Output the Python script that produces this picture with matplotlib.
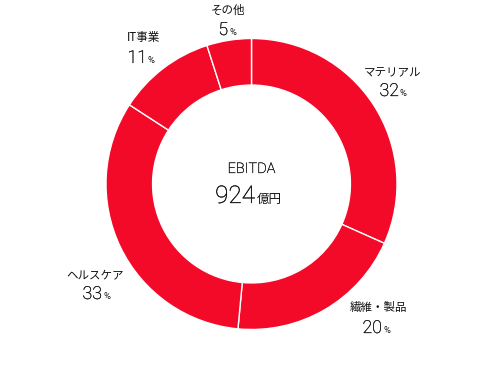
import matplotlib
matplotlib.use("Agg")
import matplotlib.pyplot as plt
import matplotlib.patheffects as pe

categories = ["マテリアル", "繊維・製品", "ヘルスケア", "IT事業", "その他"]
shares = [32, 20, 33, 11, 5]
center_title = "EBITDA"
center_value = "924"
center_unit = "億円"

W, H = 500, 367
CX, CY, R = 251.5, 184.0, 145.5
RED = "#F30A28"

fig = plt.figure(figsize=(W / 100, H / 100), dpi=100)
ax = fig.add_axes([0, 0, 1, 1])
ax.set_aspect("equal")
ax.axis("off")

ax.pie(shares, startangle=90, counterclock=False, radius=1.0,
       colors=[RED] * len(shares),
       wedgeprops=dict(width=0.32, edgecolor="white", linewidth=1.0))
ax.set_xlim(-CX / R, (W - CX) / R)
ax.set_ylim((CY - H) / R, CY / R)


def P(px, py):
    return (px - CX) / R, (CY - py) / R


JP = ["Noto Sans CJK JP", "DejaVu Sans"]
NUM = ["Roboto", "Noto Sans CJK JP", "DejaVu Sans"]
TXT = "#111111"
DARK = [pe.withStroke(linewidth=0.2, foreground=TXT)]

# layout: label center (px), number right edge + baseline (px)
layout = [
    ((392.5, 72.5), (399, 96)),
    ((378, 307.5), (382, 333)),
    ((95.5, 275), (102, 299)),
    ((144, 37.5), (147, 63)),
    ((228, 10), (228, 35)),
]

for name, val, (lab, num) in zip(categories, shares, layout):
    x, y = P(*lab)
    ax.text(x, y, name, ha="center", va="center", fontsize=8.3,
            family=JP, color=TXT)
    nx, ny = P(*num)
    ax.text(nx, ny, f"{val}", ha="right", va="baseline", fontsize=12.8,
            family=NUM, color=TXT, fontweight="light", path_effects=DARK)
    px_, _ = P(num[0] + 1.0, num[1])
    ax.text(px_, ny, "%", ha="left", va="baseline", fontsize=6.8,
            family=NUM, color=TXT, fontweight="normal")

x, y = P(251.5, 173)
ax.text(x, y, center_title, ha="center", va="baseline", fontsize=10.5,
        family=NUM, color=TXT, fontweight="light", path_effects=DARK)
x, y = P(255, 203)
ax.text(x, y, center_value, ha="right", va="baseline", fontsize=17.5,
        family=NUM, color=TXT, fontweight="light", path_effects=DARK)
x, y = P(256.5, 203)
ax.text(x, y, center_unit, ha="left", va="baseline", fontsize=9,
        family=JP, color=TXT)

fig.savefig("out.png", dpi=100, facecolor="white")
